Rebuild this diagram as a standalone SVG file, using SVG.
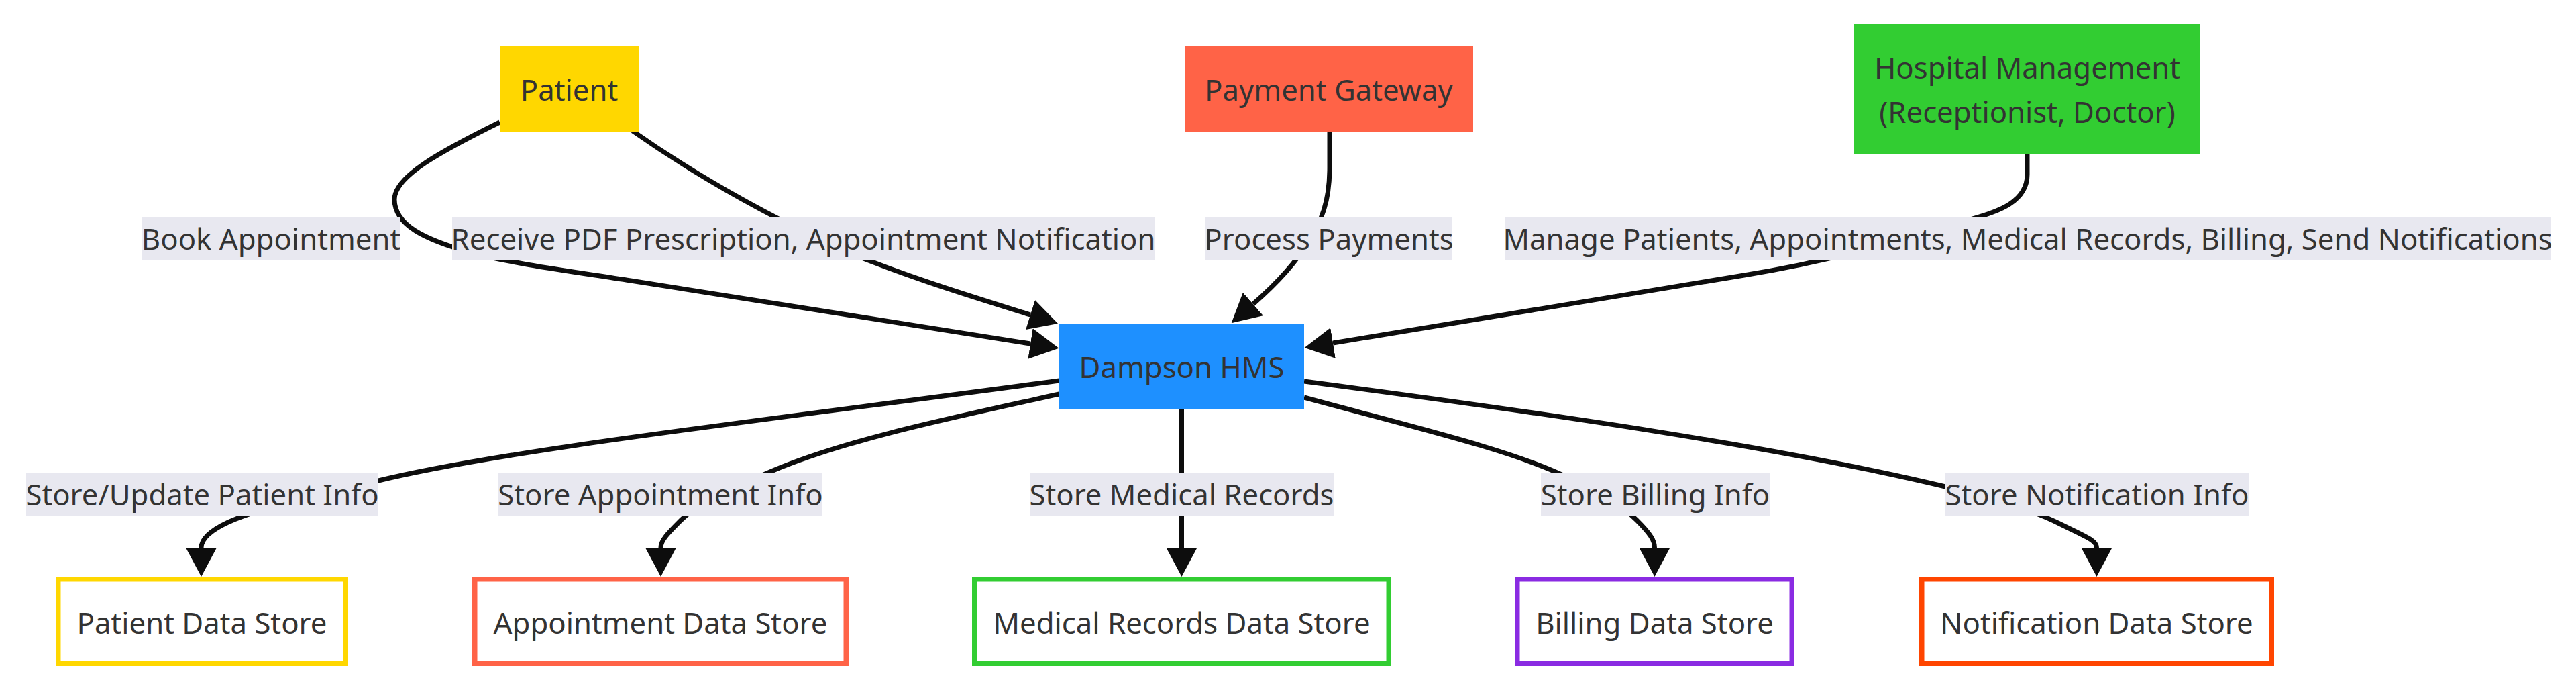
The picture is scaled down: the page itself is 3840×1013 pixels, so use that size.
<svg xmlns="http://www.w3.org/2000/svg" width="3840" height="1013" viewBox="0 0 3840 1013">
<defs>
<marker id="arr" markerUnits="userSpaceOnUse" viewBox="0 0 43 46" markerWidth="43" markerHeight="46" refX="0" refY="23" orient="auto">
<path d="M0,0 L43,23 L0,46 z" fill="#0d0d0d"/>
</marker>
<style>
.t{font-family:"Noto Sans","Open Sans","DejaVu Sans",sans-serif;font-size:43.7px;fill:#333333;text-anchor:middle}
.e{fill:none;stroke:#0d0d0d;stroke-width:7;marker-end:url(#arr)}
.lb{fill:#e8e8f0}
.st{fill:#ffffff;stroke-width:7.5}
</style>
</defs>
<rect width="3840" height="1013" fill="#ffffff"/>
<g id="connectors">
<path class="e" d="M745,182 C660,224 588,262 588,297 C588,335 632,357 705,377 C770,394 850,404 940,418 L1536,512"/>
<path class="e" d="M943,195 C1000,235 1100,300 1250,370 C1350,412 1450,442 1536,469"/>
<path class="e" d="M1982,196 L1982,250 C1982,300 1970,330 1950,360 C1930,395 1900,425 1868,453"/>
<path class="e" d="M3022,229 L3022,260 C3022,300 2980,315 2940,326 C2850,352 2745,387 2600,410 L1987,511"/>
<path class="e" d="M1579,567 C1150,625 750,670 560,717 C450,742 380,760 340,778 C310,792 300,805 300,816"/>
<path class="e" d="M1579,587 C1420,622 1260,655 1150,702 C1080,732 1040,750 1015,775 C995,795 985,805 985,816"/>
<path class="e" d="M1761.5,609 L1761.5,816"/>
<path class="e" d="M1944,592 C2110,637 2250,670 2330,708 C2390,737 2420,755 2440,775 C2460,795 2466.5,805 2466.5,816"/>
<path class="e" d="M1944,568 C2300,615 2650,665 2900,725 C2980,745 3030,760 3070,780 C3110,800 3125.5,805 3125.5,816"/>
</g>
<g id="edge-labels">
<rect class="lb" x="212" y="323" width="384" height="64"/><text class="t" x="404" y="372">Book Appointment</text>
<rect class="lb" x="674" y="323" width="1047" height="64"/><text class="t" x="1197.5" y="372">Receive PDF Prescription, Appointment Notification</text>
<rect class="lb" x="1797" y="323" width="368" height="64"/><text class="t" x="1981" y="372">Process Payments</text>
<rect class="lb" x="2243" y="323" width="1559" height="64"/><text class="t" x="3022.5" y="372">Manage Patients, Appointments, Medical Records, Billing, Send Notifications</text>
<rect class="lb" x="39" y="704" width="525" height="65"/><text class="t" x="301.5" y="753">Store/Update Patient Info</text>
<rect class="lb" x="743" y="704" width="483" height="65"/><text class="t" x="984.5" y="753">Store Appointment Info</text>
<rect class="lb" x="1535" y="704" width="453" height="65"/><text class="t" x="1761.5" y="753">Store Medical Records</text>
<rect class="lb" x="2297" y="704" width="341" height="65"/><text class="t" x="2467.5" y="753">Store Billing Info</text>
<rect class="lb" x="2900" y="704" width="452" height="65"/><text class="t" x="3126" y="753">Store Notification Info</text>
</g>
<g id="patient"><rect x="745" y="69" width="207" height="127" fill="#ffd700"/><text class="t" x="848.5" y="150">Patient</text></g>
<g id="payment-gateway"><rect x="1766" y="69" width="430" height="127" fill="#ff6347"/><text class="t" x="1981" y="150">Payment Gateway</text></g>
<g id="hospital-management"><rect x="2764" y="36" width="516" height="193" fill="#32cd32"/><text class="t" x="3022" y="117">Hospital Management</text><text class="t" x="3022" y="183">(Receptionist, Doctor)</text></g>
<g id="dampson-hms"><rect x="1579" y="482" width="365" height="127" fill="#1e90ff"/><text class="t" x="1761.5" y="563">Dampson HMS</text></g>
<g id="patient-data-store"><rect class="st" x="86.75" y="862.75" width="428.5" height="125.5" stroke="#ffd700"/><text class="t" x="301" y="944">Patient Data Store</text></g>
<g id="appointment-data-store"><rect class="st" x="707.75" y="862.75" width="553.5" height="125.5" stroke="#ff6347"/><text class="t" x="984.5" y="944">Appointment Data Store</text></g>
<g id="medical-records-data-store"><rect class="st" x="1452.75" y="862.75" width="617.5" height="125.5" stroke="#32cd32"/><text class="t" x="1761.5" y="944">Medical Records Data Store</text></g>
<g id="billing-data-store"><rect class="st" x="2261.75" y="862.75" width="409.5" height="125.5" stroke="#8a2be2"/><text class="t" x="2466.5" y="944">Billing Data Store</text></g>
<g id="notification-data-store"><rect class="st" x="2864.75" y="862.75" width="521.5" height="125.5" stroke="#ff4500"/><text class="t" x="3125.5" y="944">Notification Data Store</text></g>
</svg>
